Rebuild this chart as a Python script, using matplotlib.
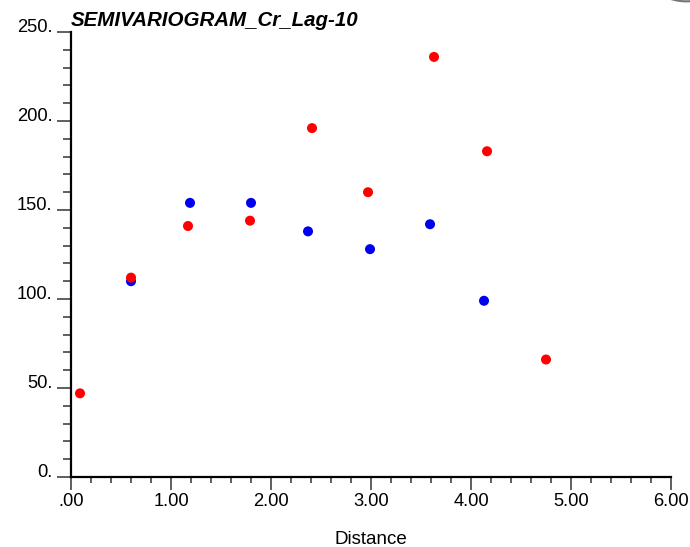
import matplotlib.pyplot as plt
from matplotlib.patches import Ellipse
from matplotlib.ticker import MultipleLocator, FuncFormatter

plt.rcParams['font.family'] = ['Liberation Sans', 'DejaVu Sans']

# semivariogram points
blue_dist = [0.60, 1.19, 1.80, 2.37, 2.99, 3.59, 4.13]
blue_gamma = [110, 154, 154, 138, 128, 142, 99]
red_dist = [0.09, 0.60, 1.17, 1.79, 2.41, 2.97, 3.63, 4.16, 4.75]
red_gamma = [47, 112, 141, 144, 196, 160, 236, 183, 66]

fig = plt.figure(figsize=(6.9, 5.47), dpi=100)
ax = fig.add_axes([0.1029, 0.128, 0.8696, 0.8135])

ax.scatter(blue_dist, blue_gamma, s=52, color='#0000f0', edgecolors='none', zorder=3)
ax.scatter(red_dist, red_gamma, s=52, color='#ff0000', edgecolors='none', zorder=4)

ax.set_xlim(0, 6)
ax.set_ylim(0, 250)
ax.xaxis.set_major_locator(MultipleLocator(1))
ax.xaxis.set_minor_locator(MultipleLocator(0.2))
ax.yaxis.set_major_locator(MultipleLocator(50))
ax.yaxis.set_minor_locator(MultipleLocator(10))
ax.xaxis.set_major_formatter(FuncFormatter(lambda v, p: '.00' if v == 0 else '%.2f' % v))
ax.yaxis.set_major_formatter(FuncFormatter(lambda v, p: '%d.' % v))

for s in ['top', 'right']:
    ax.spines[s].set_visible(False)
for s in ['left', 'bottom']:
    ax.spines[s].set_linewidth(1.6)
    ax.spines[s].set_color('black')

ax.tick_params(axis='x', which='major', length=9, width=1.2, color='#444444', pad=2.5, labelsize=13.2)
ax.tick_params(axis='x', which='minor', length=4.5, width=1.2, color='#444444')
ax.tick_params(axis='y', which='major', length=10, width=1.2, color='#444444', pad=3.5, labelsize=13.2)
ax.tick_params(axis='y', which='minor', length=6, width=1.2, color='#444444')
for lab in ax.get_yticklabels():
    lab.set_va('baseline')

ax.set_title('SEMIVARIOGRAM_Cr_Lag-10', loc='left', fontsize=14.8, fontweight='bold',
             fontstyle='italic', pad=4.5)
ax.set_xlabel('Distance', fontsize=13.5, labelpad=15)

# grey arc peeking in at the top-right corner
fig.patches.append(Ellipse((0.995, 1.03), 0.09, 0.065, transform=fig.transFigure,
                           facecolor='#dddddd', edgecolor='#777777', lw=1.5, figure=fig))

fig.savefig('out.png', dpi=100)
